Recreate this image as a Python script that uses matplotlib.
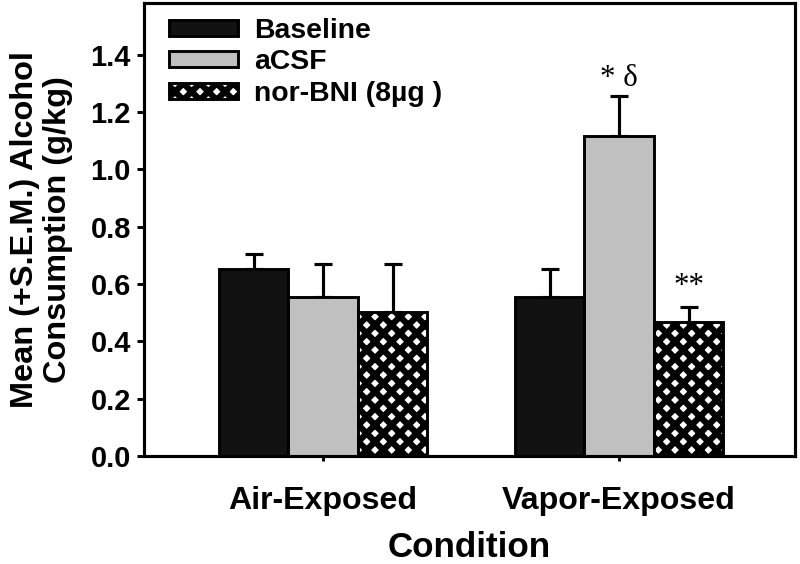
import numpy as np
import matplotlib
matplotlib.use("Agg")
import matplotlib.pyplot as plt

# ---------------------------------------------------------
# DATOS
# ---------------------------------------------------------
condiciones = ["Air-Exposed", "Vapor-Exposed"]
series = ["Baseline", "aCSF", "nor-BNI (8µg )"]
medias = {
    "Baseline": [0.652, 0.555],
    "aCSF": [0.555, 1.116],
    "nor-BNI (8µg )": [0.502, 0.467],
}
sem = {
    "Baseline": [0.053, 0.097],
    "aCSF": [0.115, 0.140],
    "nor-BNI (8µg )": [0.168, 0.053],
}
y_ticks = [0.0, 0.2, 0.4, 0.6, 0.8, 1.0, 1.2, 1.4]

colores = ["#111111", "#c0c0c0", "white"]
tramas = [None, None, "xxx"]

# ---------------------------------------------------------
# ESTILO
# ---------------------------------------------------------
plt.rcParams["font.family"] = ["Liberation Sans", "DejaVu Sans"]
plt.rcParams["font.weight"] = "bold"
plt.rcParams["axes.labelweight"] = "bold"
plt.rcParams["hatch.linewidth"] = 3.0
plt.rcParams["hatch.color"] = "black"

fig = plt.figure(figsize=(800 / 150, 564 / 150), dpi=150)
ax = fig.add_axes([0.18, 0.1915, 0.814, 0.8032])

x = np.arange(1, len(condiciones) + 1)
ancho = 0.235

for i, s in enumerate(series):
    pos = x + (i - 1) * ancho
    ax.bar(pos, medias[s], ancho, color=colores[i], edgecolor="black",
           linewidth=1.4, hatch=tramas[i], label=s, zorder=2)
    ax.errorbar(pos, medias[s], yerr=[np.zeros(len(pos)), sem[s]],
                fmt="none", ecolor="black", elinewidth=1.5,
                capsize=4.3, capthick=1.5, zorder=1)

# anotaciones
serif = ["Liberation Serif", "DejaVu Serif"]
ax.text(x[1], medias["aCSF"][1] + sem["aCSF"][1] + 0.06, "* δ",
        ha="center", va="center", fontsize=14.8, family=serif,
        fontweight="normal")
ax.text(x[1] + ancho, medias["nor-BNI (8µg )"][1] + sem["nor-BNI (8µg )"][1] + 0.07,
        "**", ha="center", va="center", fontsize=14.8, family=serif,
        fontweight="normal")

ax.set_xlim(0.395, 2.595)
ax.set_ylim(0, 1.58)
ax.set_yticks(y_ticks)
ax.set_yticklabels([f"{v:.1f}" for v in y_ticks], fontsize=13.9)
ax.set_xticks(x)
ax.set_xticklabels(condiciones, fontsize=15.4)

ax.tick_params(axis="y", direction="out", length=3.3, width=1.4, pad=3)
ax.tick_params(axis="x", direction="out", length=2.5, width=1.4, pad=12)
for sp in ax.spines.values():
    sp.set_linewidth(1.5)

ax.set_xlabel("Condition", fontsize=16.8, labelpad=7)
ax.set_ylabel("Mean (+S.E.M.) Alcohol\nConsumption (g/kg)", fontsize=15.6,
              linespacing=1.1, labelpad=8.5)

ax.legend(loc="upper left", bbox_to_anchor=(0.012, 1.005), frameon=False,
          fontsize=13.6, handlelength=2.45, handleheight=0.5,
          labelspacing=0.2, handletextpad=0.55, borderaxespad=0.2)

plt.savefig("out.png", dpi=150)
